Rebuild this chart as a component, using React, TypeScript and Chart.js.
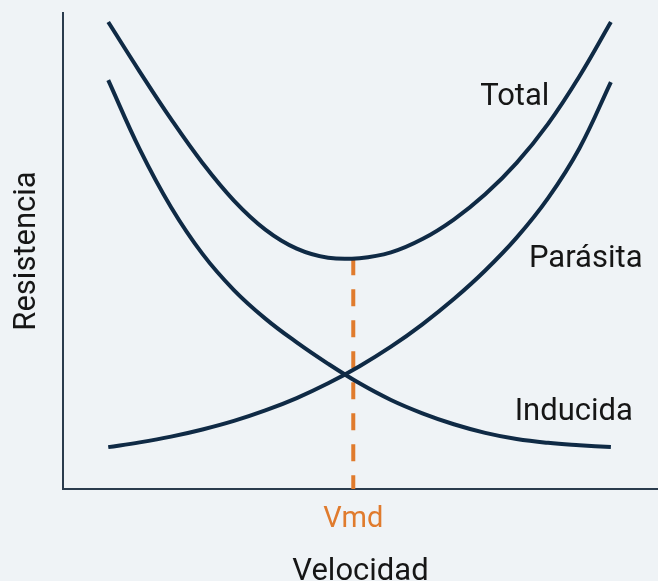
import React, { useEffect, useRef } from 'react';
import { Chart, registerables } from 'chart.js';

Chart.register(...registerables);

// ---- data (velocity in arbitrary units, drag in arbitrary units) ----
const velocity = [1, 1.5, 2, 2.5, 3, 3.5, 4, 4.5, 5, 5.5, 6, 6.5, 7, 7.5, 8, 8.5, 9];
const totalDrag = [9.81, 8.77, 7.77, 6.85, 6.06, 5.45, 5.05, 4.86, 4.85, 4.97, 5.25, 5.66, 6.19, 6.85, 7.67, 8.67, 9.81];
const parasiteDrag = [0.88, 0.98, 1.1, 1.25, 1.43, 1.65, 1.91, 2.22, 2.58, 2.99, 3.46, 3.99, 4.59, 5.28, 6.11, 7.16, 8.55];
const inducedDrag = [8.59, 7.14, 5.92, 4.94, 4.18, 3.58, 3.08, 2.63, 2.22, 1.87, 1.59, 1.36, 1.18, 1.05, 0.97, 0.92, 0.88];

const curveLabels = ['Total', 'Parásita', 'Inducida'];
const curveLabelX = [7.47, 8.6, 8.41];
const curveLabelY = [8.07, 4.66, 1.45];

const vmdLabel = 'Vmd';
const vmdSpeed = 4.9;
const vmdDrag = 4.85;

const xTitle = 'Velocidad';
const yTitle = 'Resistencia';

const NAVY = '#0f2a45';
const ORANGE = '#e07b2d';
const AXIS = '#2a3b4d';
const TEXT = '#161616';
const BG = '#eff3f6';

export default function App() {
  const ref = useRef<HTMLCanvasElement>(null);

  useEffect(() => {
    document.body.style.margin = '0';
    Chart.defaults.font.family = "Roboto, 'Liberation Sans', sans-serif";
    const toPts = (ys: number[]) => velocity.map((x, i) => ({ x, y: ys[i] }));

    const labelPlugin = {
      id: 'curveLabels',
      afterDatasetsDraw(chart: any) {
        const { ctx, scales } = chart;
        const xs = scales.x;
        const ys = scales.y;
        ctx.save();
        ctx.font = "31px Roboto, 'Liberation Sans', sans-serif";
        ctx.fillStyle = TEXT;
        ctx.textAlign = 'center';
        ctx.textBaseline = 'alphabetic';
        curveLabels.forEach((t, i) => {
          ctx.fillText(t, xs.getPixelForValue(curveLabelX[i]), ys.getPixelForValue(curveLabelY[i]));
        });
        ctx.restore();
      },
    };

    const common = {
      borderColor: NAVY,
      borderWidth: 4,
      pointRadius: 0,
      tension: 0.4,
      fill: false,
    };

    const chart = new Chart(ref.current as HTMLCanvasElement, {
      type: 'line',
      data: {
        datasets: [
          { label: 'Total', data: toPts(totalDrag), ...common, order: 1 },
          { label: 'Parásita', data: toPts(parasiteDrag), ...common, order: 2 },
          { label: 'Inducida', data: toPts(inducedDrag), ...common, order: 3 },
          {
            label: vmdLabel,
            data: [
              { x: vmdSpeed, y: vmdDrag },
              { x: vmdSpeed, y: 0 },
            ],
            borderColor: ORANGE,
            borderWidth: 4,
            borderDash: [17, 14],
            pointRadius: 0,
            fill: false,
            order: 4,
          },
        ],
      },
      options: {
        animation: false,
        responsive: true,
        maintainAspectRatio: false,
        layout: { padding: { left: 0, top: 13, right: 0, bottom: 0 } },
        plugins: { legend: { display: false }, tooltip: { enabled: false } },
        scales: {
          x: {
            type: 'linear',
            min: 0.28,
            max: 9.75,
            grid: { display: false, drawTicks: false, tickLength: 0 },
            border: { display: true, color: AXIS, width: 2 },
            afterBuildTicks: (s: any) => {
              s.ticks = [{ value: vmdSpeed }];
            },
            ticks: {
              color: ORANGE,
              font: { size: 29 },
              padding: 13,
              maxRotation: 0,
              autoSkip: false,
              callback: () => vmdLabel,
            },
            title: {
              display: true,
              text: xTitle,
              color: TEXT,
              font: { size: 31, lineHeight: 0.55 },
              padding: { top: 14.15, bottom: 0 },
            },
          },
          y: {
            type: 'linear',
            min: 0,
            max: 10,
            grid: { display: false, drawTicks: false, tickLength: 0 },
            border: { display: true, color: AXIS, width: 2 },
            ticks: { display: false },
            title: {
              display: true,
              text: yTitle,
              color: TEXT,
              font: { size: 31, lineHeight: 1.2 },
              padding: { top: 8.4, bottom: 17.4 },
            },
          },
        },
      },
      plugins: [labelPlugin],
    } as any);

    return () => chart.destroy();
  }, []);

  return (
    <div style={{ position: 'fixed', left: 0, top: 0, width: 658, height: 581, background: BG }}>
      <canvas ref={ref} />
    </div>
  );
}
